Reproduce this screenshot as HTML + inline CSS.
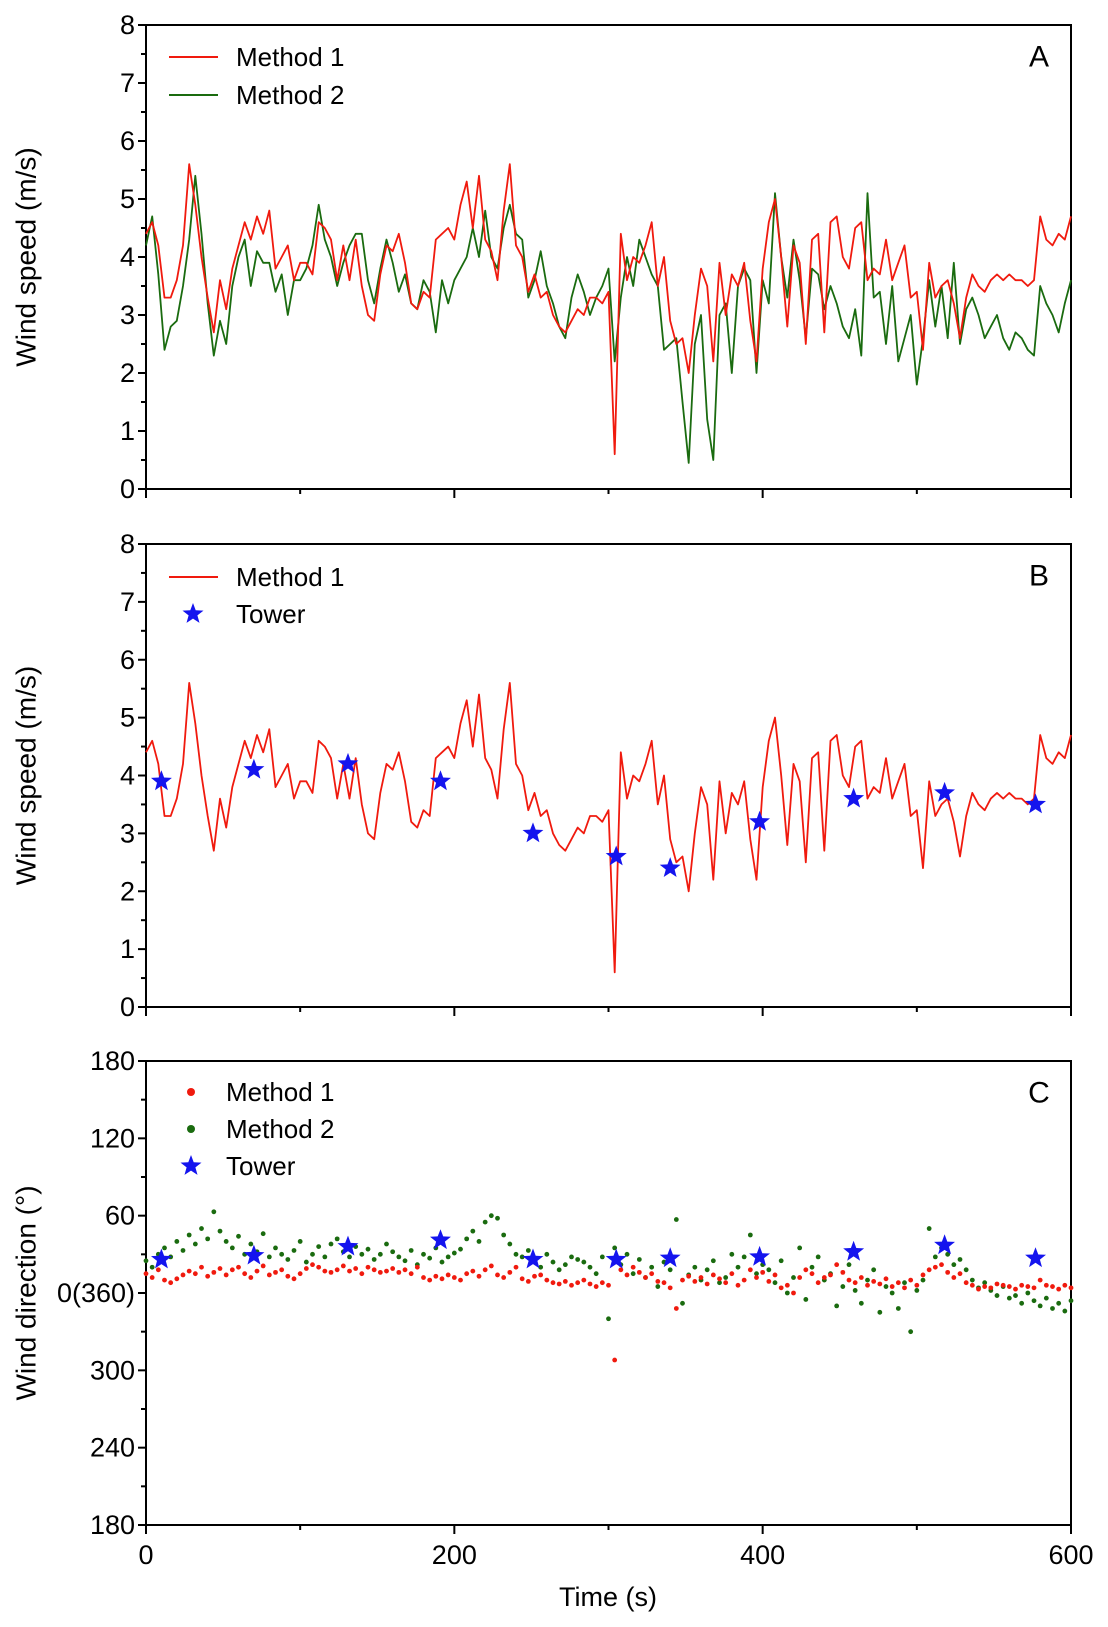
<!DOCTYPE html>
<html><head><meta charset="utf-8">
<style>
html,body{margin:0;padding:0;background:#fff;}
svg{display:block;font-family:"Liberation Sans",Arial,sans-serif;}
</style></head>
<body>
<svg id="chart" width="1108" height="1627" viewBox="0 0 1108 1627" xmlns="http://www.w3.org/2000/svg"></svg>
<script>
// ---- data ----
const speedM1 = [4.4,4.6,4.2,3.3,3.3,3.6,4.2,5.6,4.9,4.0,3.3,2.7,3.6,3.1,3.8,4.2,4.6,4.3,4.7,4.4,4.8,3.8,4.0,4.2,3.6,3.9,3.9,3.7,4.6,4.5,4.3,3.6,4.2,3.6,4.3,3.5,3.0,2.9,3.7,4.2,4.1,4.4,3.9,3.2,3.1,3.4,3.3,4.3,4.4,4.5,4.3,4.9,5.3,4.5,5.4,4.3,4.1,3.6,4.8,5.6,4.2,4.0,3.4,3.7,3.3,3.4,3.0,2.8,2.7,2.9,3.1,3.0,3.3,3.3,3.2,3.4,0.6,4.4,3.6,4.0,3.9,4.2,4.6,3.5,4.0,2.9,2.5,2.6,2.0,3.0,3.8,3.5,2.2,3.9,3.0,3.7,3.5,3.9,2.9,2.2,3.8,4.6,5.0,4.0,2.8,4.2,3.9,2.5,4.3,4.4,2.7,4.6,4.7,4.0,3.8,4.5,4.6,3.6,3.8,3.7,4.3,3.6,3.9,4.2,3.3,3.4,2.4,3.9,3.3,3.5,3.6,3.2,2.6,3.3,3.7,3.5,3.4,3.6,3.7,3.6,3.7,3.6,3.6,3.5,3.6,4.7,4.3,4.2,4.4,4.3,4.7];
const speedM2 = [4.2,4.7,3.7,2.4,2.8,2.9,3.5,4.3,5.4,4.4,3.2,2.3,2.9,2.5,3.5,4.0,4.3,3.5,4.1,3.9,3.9,3.4,3.7,3.0,3.6,3.6,3.8,4.2,4.9,4.3,4.0,3.5,3.9,4.2,4.4,4.4,3.6,3.2,3.8,4.3,3.9,3.4,3.7,3.2,3.1,3.6,3.4,2.7,3.6,3.2,3.6,3.8,4.0,4.5,4.0,4.8,4.0,3.8,4.5,4.9,4.4,4.3,3.3,3.6,4.1,3.5,3.2,2.8,2.6,3.3,3.7,3.4,3.0,3.3,3.5,3.8,2.2,3.3,4.0,3.5,4.3,4.0,3.7,3.5,2.4,2.5,2.6,1.5,0.45,2.5,3.0,1.2,0.5,3.0,3.2,2.0,3.5,3.8,3.6,2.0,3.6,3.2,5.1,4.0,3.3,4.3,3.6,2.6,3.8,3.7,3.1,3.5,3.2,2.8,2.6,3.1,2.3,5.1,3.3,3.4,2.5,3.5,2.2,2.6,3.0,1.8,2.6,3.6,2.8,3.5,2.6,3.9,2.5,3.1,3.3,3.0,2.6,2.8,3.0,2.6,2.4,2.7,2.6,2.4,2.3,3.5,3.2,3.0,2.7,3.2,3.6];
const towerTimes = [10,70,131,191,251,305,340,398,459,518,577];
const towerSpeed = [3.9,4.1,4.2,3.9,3.0,2.6,2.4,3.2,3.6,3.7,3.5];
const towerDir = [26,29,36,41,26,26,27,28,32,37,27];
const dirM1 = [15,12,18,10,8,11,14,17,15,20,13,16,19,14,18,20,15,12,17,21,14,16,18,13,11,15,19,22,20,17,16,18,21,17,19,15,20,18,16,17,19,16,18,15,20,12,10,13,11,14,12,10,15,17,13,18,21,14,12,16,20,11,9,13,14,10,8,7,9,6,8,10,7,5,8,6,-52,18,14,20,16,12,15,9,8,4,-12,10,13,9,12,7,14,11,8,15,6,10,18,12,16,9,14,4,6,0,12,18,15,8,12,14,22,16,10,8,12,6,9,7,11,5,8,4,10,6,14,18,20,22,16,12,15,8,6,3,5,4,7,6,5,3,6,5,4,10,6,5,3,6,4];
const dirM2 = [25,20,30,35,28,40,33,45,38,50,42,63,48,40,35,44,30,38,32,46,28,35,30,26,33,40,24,30,36,28,38,42,32,28,36,30,34,26,30,38,32,28,25,33,22,30,27,35,24,28,31,34,42,48,40,55,60,58,45,38,30,28,33,25,20,30,24,18,22,28,26,24,20,15,28,-20,35,22,30,15,26,12,20,5,24,18,57,-8,14,20,10,18,25,8,12,30,20,28,45,15,22,18,8,25,0,12,35,-5,20,28,10,15,-10,5,22,2,-8,10,18,-15,5,0,-12,8,-30,2,10,50,28,35,30,22,26,18,10,4,8,2,-2,5,-4,-2,-8,0,-6,-10,-4,-12,-8,-14,-6];
const speedTicks = [0,1,2,3,4,5,6,7,8];
const dirTicks = [-180,-120,-60,0,60,120,180];
const dirTickLabels = ["180","240","300","0(360)","60","120","180"];
const timeTicks = [0,200,400,600];
const timeMinor = [100,300,500];

// ---- layout ----
const svg = document.getElementById('chart');
const NS = 'http://www.w3.org/2000/svg';
const X0 = 146, X1 = 1071;
const panels = [{top:25,bot:489},{top:544,bot:1007},{top:1061,bot:1525}];
function xs(t){return X0 + (t/600)*(X1-X0);}
function ysp(p,v){return p.bot - (v/8)*(p.bot-p.top);}
function ydir(p,v){return p.bot - ((v+180)/360)*(p.bot-p.top);}
function mk(tag, attrs, parent){const e=document.createElementNS(NS,tag);for(const k in attrs)e.setAttribute(k,attrs[k]);(parent||svg).appendChild(e);return e;}
function txt(x,y,s,size,anchor,parent){const e=mk('text',{x:x,y:y,'font-size':size,'text-anchor':anchor||'middle','dominant-baseline':'central',fill:'#000'},parent);e.textContent=s;return e;}
function starPath(cx,cy,R){const r=R*0.42;let d='';for(let i=0;i<10;i++){const a=-Math.PI/2+i*Math.PI/5;const rr=i%2?r:R;d+=(i?'L':'M')+(cx+rr*Math.cos(a)).toFixed(1)+','+(cy+rr*Math.sin(a)).toFixed(1);}return d+'Z';}

function drawAxes(p, idx, ticks, tickLabels, yfn, minorFn){
  const g = mk('g',{});
  
  
  const box = mk('rect',{x:X0,y:p.top,width:X1-X0,height:p.bot-p.top,fill:'none',stroke:'#000','stroke-width':2},g);
  
  
  ticks.forEach((v,i)=>{
    const y=yfn(p,v);
    mk('line',{x1:X0-8,x2:X0,y1:y,y2:y,stroke:'#000','stroke-width':2},g);
    const t=txt(X0-11,y,tickLabels[i],27,'end',g);
    
    
    if(i<ticks.length-1){const ym=yfn(p,minorFn(v,ticks[i+1]));mk('line',{x1:X0-5,x2:X0,y1:ym,y2:ym,stroke:'#000','stroke-width':2},g);}
  });
  timeTicks.forEach(t=>{mk('line',{x1:xs(t),x2:xs(t),y1:p.bot,y2:p.bot+9,stroke:'#000','stroke-width':2},g);});
  timeMinor.forEach(t=>{mk('line',{x1:xs(t),x2:xs(t),y1:p.bot,y2:p.bot+5,stroke:'#000','stroke-width':2},g);});
}
function linePath(p, arr, fn){const n=arr.length;return arr.map((v,i)=>(i?'L':'M')+xs(i*600/(n-1)).toFixed(1)+','+fn(p,v).toFixed(1)).join('');}

const pA=panels[0], pB=panels[1], pC=panels[2];
drawAxes(pA,0,speedTicks,speedTicks.map(String),ysp,(a,b)=>(a+b)/2);
drawAxes(pB,1,speedTicks,speedTicks.map(String),ysp,(a,b)=>(a+b)/2);
drawAxes(pC,2,dirTicks,dirTickLabels,ydir,(a,b)=>(a+b)/2);

const a2=mk('path',{d:linePath(pA,speedM2,ysp),fill:'none',stroke:'#1a6b0f','stroke-width':1.8,'stroke-linejoin':'round'});


const a1=mk('path',{d:linePath(pA,speedM1,ysp),fill:'none',stroke:'#f01a0e','stroke-width':1.8,'stroke-linejoin':'round'});



const b1=mk('path',{d:linePath(pB,speedM1,ysp),fill:'none',stroke:'#f01a0e','stroke-width':1.8,'stroke-linejoin':'round'});


towerTimes.forEach((t,i)=>{
  const s=mk('path',{d:starPath(xs(t),ysp(pB,towerSpeed[i]),11),fill:'#1414ee'});
  
  
});

dirM2.forEach((v,i)=>{
  const c=mk('circle',{cx:xs(i*600/(dirM2.length-1)),cy:ydir(pC,v),r:2.4,fill:'#1a6b0f'});
  
  
});
dirM1.forEach((v,i)=>{
  const c=mk('circle',{cx:xs(i*600/(dirM1.length-1)),cy:ydir(pC,v),r:2.4,fill:'#f01a0e'});
  
  
});
towerTimes.forEach((t,i)=>{
  const s=mk('path',{d:starPath(xs(t),ydir(pC,towerDir[i]),11),fill:'#1414ee'});
  
  
});

timeTicks.forEach(t=>{
  const l=txt(xs(t),1555,String(t),27,'middle');
  
  
});
const xt=txt(608,1597,'Time (s)',27,'middle');



[[pA,'Wind speed (m/s)'],[pB,'Wind speed (m/s)'],[pC,'Wind direction (°)']].forEach(([p,s])=>{
  const cy=(p.top+p.bot)/2;
  const t=mk('text',{x:26,y:cy,'font-size':28,'text-anchor':'middle','dominant-baseline':'central',transform:'rotate(-90 26 '+cy+')',fill:'#000'});
  t.textContent=s;
  
  
});

[['A',pA],['B',pB],['C',pC]].forEach(([s,p])=>{
  const t=txt(1039,p.top+32,s,30,'middle');
  
  
});

function legLine(y,color,label,name){
  const g=mk('g',{});
  
  
  mk('line',{x1:169,x2:218,y1:y,y2:y,stroke:color,'stroke-width':2},g);
  txt(236,y,label,26,'start',g);
}
function legStar(x,tx,y,label,name){
  const g=mk('g',{});
  
  
  mk('path',{d:starPath(x,y,11),fill:'#1414ee'},g);
  txt(tx,y,label,26,'start',g);
}
function legDot(y,color,label,name){
  const g=mk('g',{});
  
  
  mk('circle',{cx:191,cy:y,r:4,fill:color},g);
  txt(226,y,label,26,'start',g);
}
legLine(57,'#f01a0e','Method 1','legend-a-method-1');
legLine(95,'#1a6b0f','Method 2','legend-a-method-2');
legLine(577,'#f01a0e','Method 1','legend-b-method-1');
legStar(193,236,614,'Tower','legend-b-tower');
legDot(1092,'#f01a0e','Method 1','legend-c-method-1');
legDot(1129,'#1a6b0f','Method 2','legend-c-method-2');
legStar(191,226,1166,'Tower','legend-c-tower');
</script>
</body></html>
